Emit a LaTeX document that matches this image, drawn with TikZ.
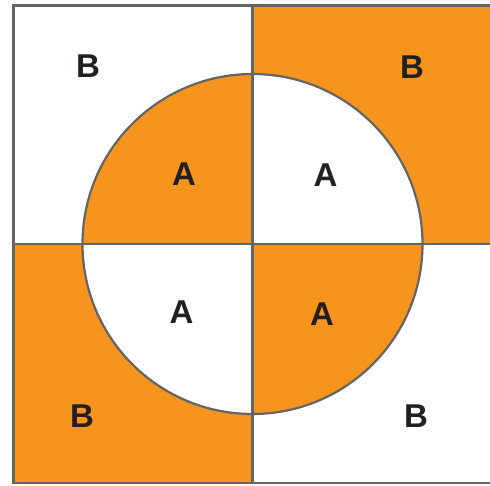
\documentclass[tikz,border=0pt]{standalone}
\usepackage{fontspec}
\setmainfont{Liberation Sans}
\definecolor{orng}{HTML}{F7941D}
\definecolor{edge}{HTML}{646464}
\definecolor{ink}{HTML}{231F20}
\begin{document}
\begin{tikzpicture}[x=1pt,y=-1pt,
  lbl/.style={font=\fontsize{33}{33}\selectfont\bfseries, text=ink, inner sep=0pt},
  rim/.style={draw=edge, line width=2.6pt}]
\useasboundingbox (0,0) rectangle (490,485);
\begin{scope}
\clip (0,0) rectangle (490,485);
% quadrant fills
\fill[orng] (252.5,5.5) rectangle (491.5,244);
\fill[orng] (13.5,244) rectangle (252.5,483);
% circle quarters
\fill[white] (252.5,244) -- (252.5,74) arc[start angle=90,end angle=0,x radius=170,y radius=-170] -- cycle;
\fill[white] (252.5,244) -- (252.5,414) arc[start angle=270,end angle=180,x radius=170,y radius=-170] -- cycle;
\fill[orng] (252.5,244) -- (82.5,244) arc[start angle=180,end angle=90,x radius=170,y radius=-170] -- cycle;
\fill[orng] (252.5,244) -- (422.5,244) arc[start angle=0,end angle=-90,x radius=170,y radius=-170] -- cycle;
% circle outline
\draw[draw=edge, line width=2.2pt] (252.5,244) circle[radius=170];
% square border and cross
\draw[rim] (13.5,5.5) rectangle (491.5,483);
\draw[rim] (252.5,5.5) -- (252.5,483);
\draw[rim] (13.5,244) -- (491.5,244);
\end{scope}
\node[lbl] (b1) at (88,66.5) {B};
\node[lbl] (b2) at (412,67.5) {B};
\node[lbl] (b3) at (82,416.5) {B};
\node[lbl] (b4) at (416,416) {B};
\node[lbl] (a1) at (184,174.5) {A};
\node[lbl] (a2) at (325.5,175.5) {A};
\node[lbl] (a3) at (181.5,312.5) {A};
\node[lbl] (a4) at (322,314.5) {A};
\end{tikzpicture}
\end{document}
